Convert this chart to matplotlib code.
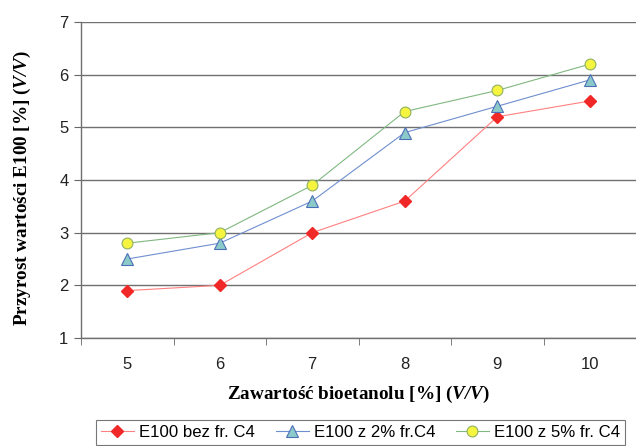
import numpy as np
import matplotlib
matplotlib.use("Agg")
import matplotlib.pyplot as plt

plt.rcParams['mathtext.fontset'] = 'custom'
plt.rcParams['mathtext.rm'] = 'Liberation Serif'
plt.rcParams['mathtext.bf'] = 'Liberation Serif:bold'
plt.rcParams['mathtext.it'] = 'Liberation Serif:italic'
plt.rcParams['mathtext.bfit'] = 'Liberation Serif:bold:italic'

categories = ['5', '6', '7', '8', '9', '10']
bez_c4 = [1.9, 2.0, 3.0, 3.6, 5.2, 5.5]
z2_c4 = [2.5, 2.8, 3.6, 4.9, 5.4, 5.9]
z5_c4 = [2.8, 3.0, 3.9, 5.3, 5.7, 6.2]
labels = ['E100 bez fr. C4', 'E100 z 2% fr.C4', 'E100 z 5% fr. C4']

fig = plt.figure(figsize=(6.36, 4.46), dpi=100)
ax = fig.add_axes([81 / 636, 1 - 338 / 446, 1 - 81 / 636, (338 - 22) / 446])

x = np.arange(len(categories))
ax.plot(x, bez_c4, color='#ff8080', lw=0.8, marker='D', ms=6.6,
        mfc='#f02828', mec='#f02828', label=labels[0], zorder=3)
ax.plot(x, z2_c4, color='#6f8fd0', lw=0.8, marker='^', ms=8,
        mfc='#8ccaca', mec='#4a6fb8', mew=0.8, label=labels[1], zorder=3)
ax.plot(x, z5_c4, color='#80b880', lw=0.8, marker='o', ms=7.8,
        mfc='#f5f540', mec='#90b060', mew=0.8, label=labels[2], zorder=3)

ax.set_xlim(-0.5, len(categories) - 0.5)
ax.set_ylim(1, 7)
ax.set_yticks(range(1, 8))
ax.set_xticks(x)
ax.set_xticklabels(categories)
ax.set_xticks(np.arange(-0.5, len(categories)), minor=True)
ax.tick_params(axis='x', which='major', length=0, pad=14, labelsize=12, labelcolor='#222222')
ax.tick_params(axis='x', which='minor', length=5, color='#666666', direction='out')
ax.tick_params(axis='y', length=5, color='#666666', labelsize=12, labelcolor='#222222', pad=4)
for lab in ax.get_xticklabels() + ax.get_yticklabels():
    lab.set_family('Liberation Sans')

ax.grid(axis='y', color='#707070', lw=1.0)
ax.set_axisbelow(True)
for s in ['top', 'right']:
    ax.spines[s].set_visible(False)
for s in ['left', 'bottom']:
    ax.spines[s].set_color('#707070')
    ax.spines[s].set_linewidth(1.0)

ax.set_xlabel('Zawartość bioetanolu [%] (' + r'$\mathbfit{V/V}$' + ')',
              family='Liberation Serif', fontweight='bold', fontsize=13.8, labelpad=8)
ax.set_ylabel('Przyrost wartości E100 [%] (' + r'$\mathbfit{V/V}$' + ')',
              family='Liberation Serif', fontweight='bold', fontsize=13.8)
ax.yaxis.set_label_coords(-0.087, 0.476)

leg = fig.legend(loc='upper left', bbox_to_anchor=(96 / 636, 1 - 420 / 446), ncol=3,
                 frameon=True, fancybox=False, edgecolor='#555555',
                 prop={'family': 'Liberation Sans', 'size': 12.1},
                 handlelength=1.95, columnspacing=1.25, handletextpad=0.3,
                 borderpad=0.3, borderaxespad=0)
leg.get_frame().set_linewidth(0.8)

fig.savefig('out.png', dpi=100)
